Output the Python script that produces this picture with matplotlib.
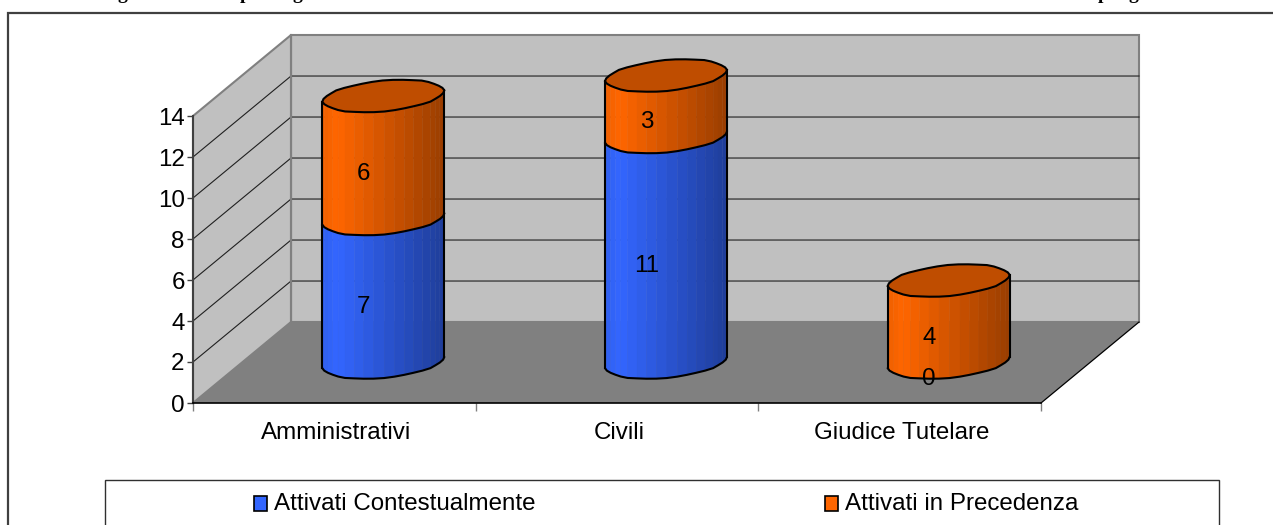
import numpy as np
import matplotlib
matplotlib.use("Agg")
import matplotlib.pyplot as plt
from matplotlib.patches import Polygon, Rectangle

categories = ["Amministrativi", "Civili", "Giudice Tutelare"]
series_names = ["Attivati Contestualmente", "Attivati in Precedenza"]
contestualmente = [7, 11, 0]
precedenza = [6, 3, 4]
y_ticks = [0, 2, 4, 6, 8, 10, 12, 14]

W, H = 1273, 525
FS = 17.4
FONT = "Liberation Sans"
BLUE = np.array(matplotlib.colors.to_rgb("#3366FF"))
ORANGE = np.array(matplotlib.colors.to_rgb("#FF6600"))

fig = plt.figure(figsize=(W / 100, H / 100), dpi=100, facecolor="white")


def pixel_axes(x0, y0, x1, y1):
    return fig.add_axes([x0 / W, 1 - y1 / H, (x1 - x0) / W, (y1 - y0) / H])


# Page decoration in figure pixels
bg = fig.add_axes([0, 0, 1, 1], zorder=0)
bg.set_xlim(0, W)
bg.set_ylim(H, 0)
bg.axis("off")
bg.plot([8, 8, W], [H, 13, 13], color="#404040", lw=1.6, solid_joinstyle="miter")
bg.add_patch(Rectangle((105, 480), 1114, 60, fc="white", ec="#303030", lw=1.0))
for x, s in [(122, "g"), (245, "p"), (297, "g"), (1103, "p"), (1133, "g")]:
    bg.text(x, -0.6, s, family="Liberation Serif", weight="bold", fontsize=14,
            ha="center", va="baseline", clip_on=True, color="black")

# Main axes: the front plane of the 3D chart, in data units
ax = pixel_axes(193, 116, 1041, 403)
ax.set_xlim(0, 3)
ax.set_ylim(0, 14)
ax.patch.set_alpha(0)
ax.set_zorder(1)
for s in ax.spines.values():
    s.set_visible(False)

DX, DY = 0.3467, 3.95  # full depth of the chart box
wall = "#C0C0C0"
edge = "#808080"
ax.add_patch(Polygon([(DX, DY), (3 + DX, DY), (3 + DX, 14 + DY), (DX, 14 + DY)],
                     fc=wall, ec=edge, lw=1.5, clip_on=False, zorder=1))
ax.add_patch(Polygon([(0, 0), (DX, DY), (DX, 14 + DY), (0, 14)],
                     fc=wall, ec=edge, lw=1.5, clip_on=False, zorder=1))
ax.add_patch(Polygon([(0, 0), (3, 0), (3 + DX, DY), (DX, DY)],
                     fc="#808080", ec="none", clip_on=False, zorder=1))
for t in y_ticks[1:-1]:
    ax.plot([0, DX, 3 + DX], [t, t + DY, t + DY], color="#202020",
            lw=0.8, clip_on=False, zorder=2)
ax.plot([DX, DX], [DY, 14 + DY], color=edge, lw=1.5, clip_on=False, zorder=2)
ax.plot([3, 3 + DX], [0, DY], color="black", lw=0.9, clip_on=False, zorder=2)

# Axes lines and ticks
ax.plot([0, 0], [0, 14], color="#404040", lw=1.5, clip_on=False, zorder=3)
ax.plot([0, 3], [0, 0], color="black", lw=1.2, clip_on=False, zorder=3)
ax.set_xticks([0, 1, 2, 3])
ax.set_xticklabels([])
ax.set_yticks(y_ticks)
ax.set_yticklabels([str(v) for v in y_ticks], fontsize=FS, family=FONT)
ax.tick_params(axis="y", length=4, width=1, color="#404040", pad=2)
ax.tick_params(axis="x", length=6, width=1, color="#808080")
for i, c in enumerate(categories):
    ax.annotate(c, (i + 0.5, 0), xytext=(1.5, -26), textcoords="offset points",
                ha="center", va="baseline", fontsize=FS, family=FONT)

# Cylinders: a coarse polygon around a skewed ellipse, as in the original
A, B, N = 0.2, 0.2, 36   # half width (x units), depth radius (fraction of depth)
ts = np.linspace(0, 2 * np.pi, N + 1)
wob = np.array([1.0, 1.012, 1.02, 1.006, 0.99, 0.985, 1.0, 1.015, 0.995] * 5)[:N + 1]
wob[-1] = wob[0]
PHI = 0.33  # angle of the silhouette points on the ellipse


def ellipse(cx, base):
    px = cx + A * wob * np.cos(ts) + B * DX * wob * np.sin(ts)
    py = base + B * DY * wob * np.sin(ts)
    return px, py


def shade(color, frac):
    # brightest near the left, dropping to 60 % at the right edge
    f = np.interp(frac, [0, 0.12, 1], [0.93, 1.0, 0.6])
    return np.clip(color * f, 0, 1)


def cylinder(cx, lo, hi, color, z):
    cy = DY / 2
    px, py = ellipse(cx, cy + lo)
    h = hi - lo
    for k in range(N):
        if np.sin((ts[k] + ts[k + 1]) / 2 - PHI) > 0.05:
            continue
        mx = (px[k] + px[k + 1]) / 2
        fr = (mx - (cx - 0.216)) / 0.432
        c = shade(color, fr)
        quad = [(px[k], py[k]), (px[k + 1], py[k + 1]),
                (px[k + 1], py[k + 1] + h), (px[k], py[k] + h)]
        ax.add_patch(Polygon(quad, fc=c, ec=c, lw=0.3, clip_on=False, zorder=z))
    # silhouette: extreme left and right points of the ellipse
    il, ir = int(np.argmin(px)), int(np.argmax(px))
    for j in (il, ir):
        ax.plot([px[j]] * 2, [py[j], py[j] + h], color="black", lw=1.5,
                clip_on=False, zorder=z + 0.3)
    # front arc, walking from the left extreme round to the right extreme
    idx = [(il + s) % N for s in range(N + 1)]
    stop = idx.index(ir) + 1
    idx = idx[:stop]
    ax.plot(px[idx], py[idx], color="black", lw=1.5, clip_on=False,
            zorder=z + 0.3, solid_capstyle="round")
    return px, py + h


for i in range(3):
    cx = i + 0.5 + DX / 2
    a, b = contestualmente[i], precedenza[i]
    z = 4 + i
    if a > 0:
        cylinder(cx, 0, a, BLUE, z)
    tx, ty = cylinder(cx, a, a + b, ORANGE, z + 0.4)
    ax.add_patch(Polygon(np.c_[tx, ty], fc=ORANGE * 0.75, ec="black", lw=1.5,
                         clip_on=False, zorder=z + 0.8))
    fx = cx - B * DX
    fy0 = DY / 2 - B * DY
    ax.text(fx, fy0 + a / 2, str(a), ha="center", va="center", fontsize=FS, family=FONT,
            zorder=9, clip_on=False)
    ax.text(fx, fy0 + a + b / 2, str(b), ha="center", va="center", fontsize=FS, family=FONT,
            zorder=9, clip_on=False)

# Legend
for x, name, col in [(254, series_names[0], BLUE), (825, series_names[1], ORANGE)]:
    bg.add_patch(Rectangle((x, 496), 13, 15, fc=col, ec="black", lw=1.2))
    bg.text(x + 20, 510, name, family=FONT, fontsize=FS, ha="left", va="baseline")

fig.savefig("out.png", dpi=100)
